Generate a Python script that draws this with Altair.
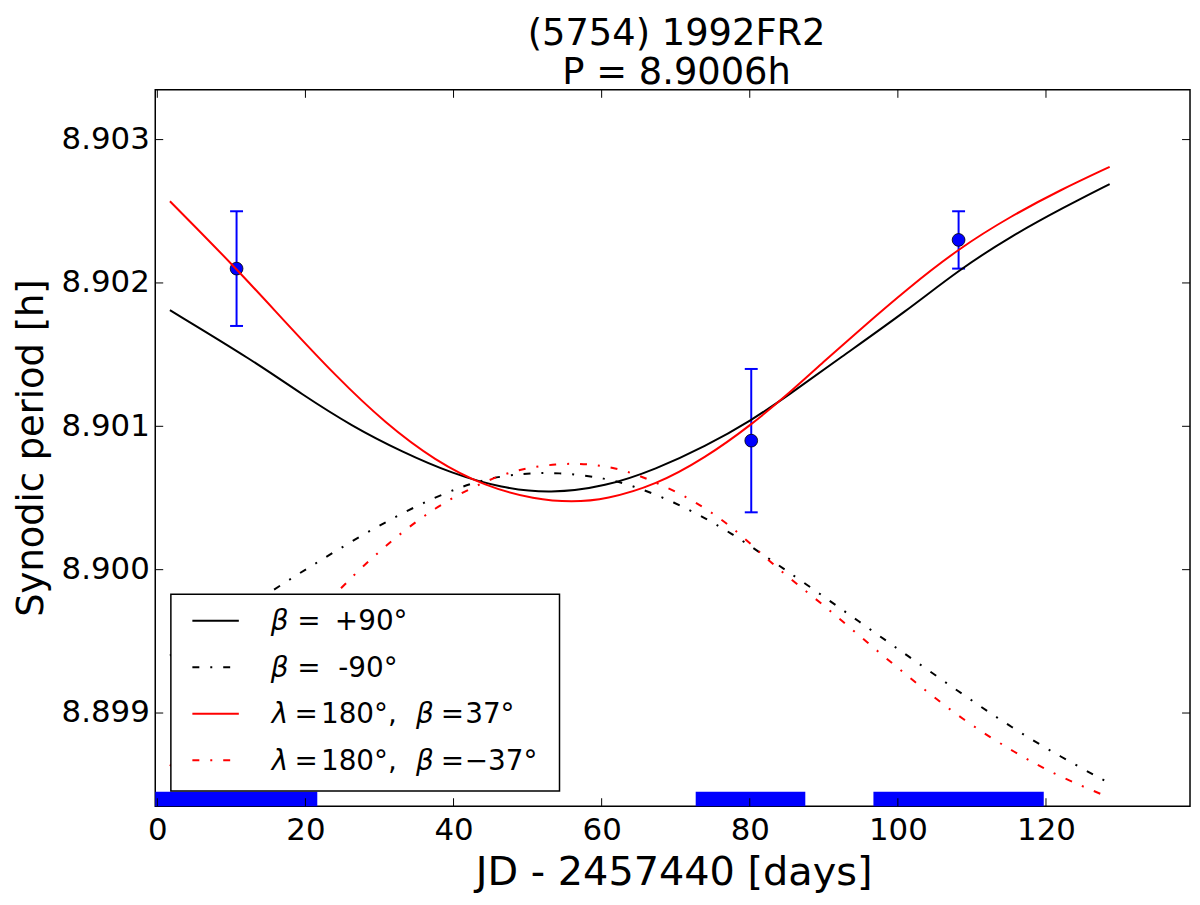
import altair as alt
import pandas as pd

# ---------------- data ----------------
# beta = +90 deg (black solid)
day_pos90 = [1.7, 12.9, 19.6, 26.3, 33.1, 39.8, 46.5, 53.0, 60.6, 67.3, 74.0,
             80.2, 85.3, 92.0, 101.3, 108.2, 115.4, 122.5, 128.6]
per_pos90 = [8.90181, 8.90146, 8.90122, 8.90100, 8.90082, 8.90067, 8.90057,
             8.90053, 8.90058, 8.90070, 8.90086, 8.90104, 8.90122, 8.90147,
             8.90181, 8.90209, 8.90233, 8.90253, 8.90269]

# beta = -90 deg (black dash-dot)
day_neg90 = [1.7, 8.0, 15.6, 22.8, 29.9, 37.5, 44.3, 49.6, 53.9, 60.6, 65.1,
             69.8, 74.0, 77.6, 80.8, 87.6, 94.7, 101.3, 108.2, 115.0, 122.1, 128.6]
per_neg90 = [8.89940, 8.89959, 8.89986, 8.90009, 8.90031, 8.90051, 8.90064,
             8.90067, 8.90068, 8.90064, 8.90057, 8.90047, 8.90036, 8.90025,
             8.90014, 8.89990, 8.89964, 8.89940, 8.89915, 8.89891, 8.89869, 8.89851]

# lambda = 180, beta = 37 (red solid)
day_l180_p37 = [1.7, 10.7, 17.4, 24.1, 30.8, 37.5, 44.3, 51.0, 56.0, 60.6, 67.3,
                74.0, 80.2, 85.3, 90.2, 95.0, 101.3, 108.2, 115.4, 122.0, 128.6]
per_l180_p37 = [8.90257, 8.90210, 8.90172, 8.90135, 8.90102, 8.90076, 8.90058,
                8.90049, 8.90047, 8.90049, 8.90059, 8.90078, 8.90101, 8.90123,
                8.90146, 8.90168, 8.90196, 8.90224, 8.90247, 8.90265, 8.90281]

# lambda = 180, beta = -37 (red dash-dot)
day_l180_m37 = [1.7, 10.7, 17.4, 25.2, 30.8, 37.5, 44.3, 48.7, 53.9, 58.4, 62.9,
                67.3, 71.8, 75.4, 78.5, 83.4, 89.6, 95.9, 102.2, 108.8, 115.9,
                121.6, 128.6]
per_l180_m37 = [8.89863, 8.89910, 8.89946, 8.89990, 8.90017, 8.90044, 8.90062,
                8.90070, 8.90074, 8.90074, 8.90070, 8.90061, 8.90050, 8.90038,
                8.90026, 8.90002, 8.89977, 8.89949, 8.89922, 8.89895, 8.89872,
                8.89856, 8.89841]

# measured synodic periods with errors
obs_day = [10.7, 80.2, 108.2]
obs_per = [8.9021, 8.9009, 8.9023]
obs_err = [0.0004, 0.0005, 0.0002]

# observing windows (blue bars at the bottom)
win_start = [-0.28, 72.7, 96.7]
win_end = [21.6, 87.5, 119.7]
win_low = 8.89835
win_high = 8.89845

x_ticks = [0, 20, 40, 60, 80, 100, 120]
y_ticks = [8.899, 8.900, 8.901, 8.902, 8.903]

title_lines = ["(5754) 1992FR2", "P = 8.9006h"]
x_title = "JD - 2457440 [days]"
y_title = "Synodic period [h]"

# ---------------- layout / style ----------------
W, H = 1040, 720
FONT = "DejaVu Sans"
BLUE = "#0000ff"
RED = "#ff0000"
DASHDOT = [7, 11, 2, 11]

xs = alt.Scale(domain=[-0.28, 139.45], nice=False, zero=False)
ys = alt.Scale(domain=[8.89835, 8.903347], nice=False, zero=False)

x_axis = alt.Axis(values=x_ticks, format="d", grid=False, domain=False,
                  ticks=False, tickSize=0, labelFlush=False,
                  labelFont=FONT, labelFontSize=31, labelColor="black",
                  labelPadding=9, title=x_title, titleFont=FONT,
                  titleFontSize=40, titleFontWeight="normal", titleColor="black",
                  titleX=521, titleY=79, titleBaseline="alphabetic",
                  titleAlign="center")
y_axis = alt.Axis(values=y_ticks, format=".3f", grid=False, domain=False,
                  ticks=False, tickSize=0, labelFlush=False,
                  labelFont=FONT, labelFontSize=31, labelColor="black",
                  labelPadding=6, title=y_title, titleFont=FONT,
                  titleFontSize=37, titleFontWeight="normal", titleColor="black",
                  titleAngle=270, titleX=-113.5, titleY=359.5,
                  titleBaseline="alphabetic", titleAlign="center")


def X(field):
    return alt.X(field, type="quantitative", scale=xs, axis=x_axis)


def Y(field):
    return alt.Y(field, type="quantitative", scale=ys, axis=y_axis)


# ---------------- marks ----------------
win_df = pd.DataFrame({"s": win_start, "e": win_end,
                       "lo": [win_low] * 3, "hi": [win_high] * 3})
windows = alt.Chart(win_df).mark_rect(color=BLUE).encode(
    x=X("s"), x2="e", y=Y("lo"), y2="hi")

obs_df = pd.DataFrame({
    "d": obs_day, "p": obs_per,
    "lo": [p - e for p, e in zip(obs_per, obs_err)],
    "hi": [p + e for p, e in zip(obs_per, obs_err)],
})
err_rule = alt.Chart(obs_df).mark_rule(color=BLUE, strokeWidth=2).encode(
    x=X("d"), y=Y("lo"), y2="hi")
cap_lo = alt.Chart(obs_df).mark_tick(color=BLUE, orient="horizontal", size=13,
                                     thickness=2, opacity=1).encode(
    x=X("d"), y=Y("lo"))
cap_hi = alt.Chart(obs_df).mark_tick(color=BLUE, orient="horizontal", size=13,
                                     thickness=2, opacity=1).encode(
    x=X("d"), y=Y("hi"))
dots = alt.Chart(obs_df).mark_point(shape="circle", filled=True, size=165,
                                    fill=BLUE, stroke="black", strokeWidth=0.8,
                                    opacity=1).encode(x=X("d"), y=Y("p"))


def curve(days, pers, color, dash=None):
    df = pd.DataFrame({"d": days, "p": pers})
    kw = dict(color=color, strokeWidth=2, interpolate="basis", clip=True)
    if dash is not None:
        kw["strokeDash"] = dash
    return alt.Chart(df).mark_line(**kw).encode(x=X("d"), y=Y("p"),
                                                order="d:Q")


c1 = curve(day_pos90, per_pos90, "black")
c2 = curve(day_neg90, per_neg90, "black", DASHDOT)
c3 = curve(day_l180_p37, per_l180_p37, RED)
c4 = curve(day_l180_m37, per_l180_m37, RED, DASHDOT)

# inward ticks on all four sides
ydf = pd.DataFrame({"v": y_ticks})
xdf = pd.DataFrame({"v": x_ticks})
tk = dict(color="black", strokeWidth=1)
t_left = alt.Chart(ydf).mark_rule(**tk).encode(
    y=Y("v"), x=alt.value(0), x2=alt.value(8))
t_right = alt.Chart(ydf).mark_rule(**tk).encode(
    y=Y("v"), x=alt.value(W - 8), x2=alt.value(W))
t_top = alt.Chart(xdf).mark_rule(**tk).encode(
    x=X("v"), y=alt.value(0), y2=alt.value(8))
t_bot = alt.Chart(xdf).mark_rule(**tk).encode(
    x=X("v"), y=alt.value(H - 8), y2=alt.value(H))

one = pd.DataFrame({"a": [0]})

# two-line title above the plot
title_layers = []
for i, line in enumerate(title_lines):
    title_layers.append(alt.Chart(one).mark_text(
        text=line, font=FONT, fontSize=37, color="black", align="center",
        baseline="alphabetic").encode(
        x=alt.value(W / 2 + 4), y=alt.value(-45 + 39.5 * i)))

# legend (drawn by hand in the lower-left corner of the plot)
leg_layers = [
    alt.Chart(one).mark_rect(fill="white", stroke="black", strokeWidth=1.5).encode(
        x=alt.value(15.7), x2=alt.value(406.3), y=alt.value(507), y2=alt.value(704.7))
]
rows_y = [533.7, 580.3, 627.0, 673.7]
row_style = [("black", None), ("black", DASHDOT), (RED, None), (RED, DASHDOT)]
for ry, (col, dash) in zip(rows_y, row_style):
    kw = dict(color=col, strokeWidth=2)
    if dash is not None:
        kw["strokeDash"] = dash
    leg_layers.append(alt.Chart(one).mark_rule(**kw).encode(
        x=alt.value(37.3), x2=alt.value(84), y=alt.value(ry)))

# label pieces: (row, text, x, italic)
pieces = [
    (0, "β", 116, True), (0, "=", 142.8, False), (0, "+90°", 180.5, False),
    (1, "β", 116, True), (1, "=", 142.8, False), (1, "-90°", 184, False),
    (2, "λ", 117, True), (2, "=", 140, False), (2, "180°,", 166.5, False),
    (2, "β", 262, True), (2, "=", 287, False), (2, "37°", 311.5, False),
    (3, "λ", 117, True), (3, "=", 140, False), (3, "180°,", 166.5, False),
    (3, "β", 262, True), (3, "=", 287, False), (3, "−37°", 311, False),
]
for r, txt, px, ital in pieces:
    leg_layers.append(alt.Chart(one).mark_text(
        text=txt, font=FONT, fontSize=28, color="black", align="left",
        baseline="alphabetic", fontStyle="italic" if ital else "normal").encode(
        x=alt.value(px), y=alt.value(rows_y[r] + 9.5)))

chart = alt.layer(
    windows, err_rule, cap_lo, cap_hi, dots, c1, c2, c3, c4,
    t_left, t_right, t_top, t_bot, *title_layers, *leg_layers
).properties(
    width=W, height=H,
    background="white",
    autosize=alt.AutoSizeParams(type="none"),
    padding={"left": 148, "top": 80, "right": 2, "bottom": 89},
).configure_view(stroke="black", strokeWidth=1.5)

chart.save("out.html", embed_options={"renderer": "svg", "actions": False})
